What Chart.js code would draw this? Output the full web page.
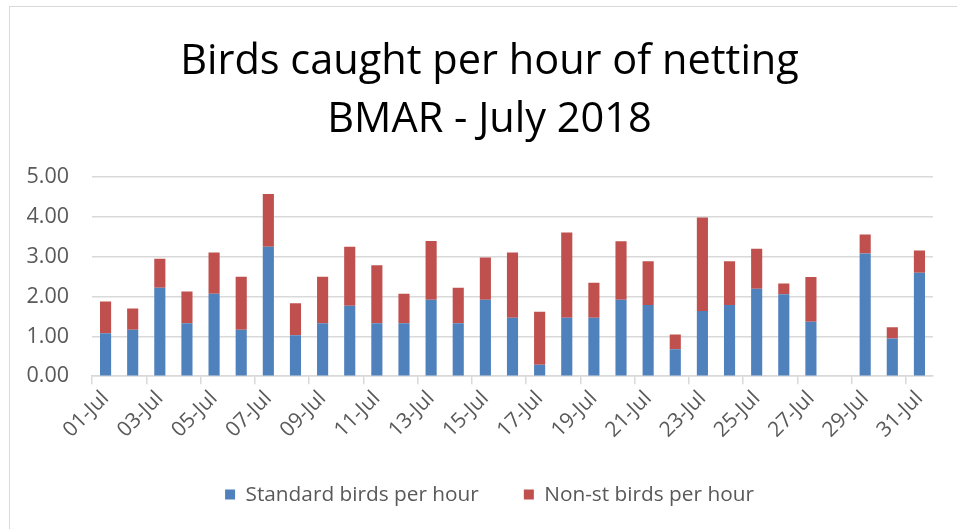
<!DOCTYPE html>
<html>
<head>
<meta charset="utf-8">
<script src="https://cdn.jsdelivr.net/npm/chart.js@4"></script>
<style>
  html, body { margin: 0; padding: 0; background: #fff; overflow: hidden; width: 957px; height: 529px; }
  #box { position: absolute; left: 9px; top: 6px; width: 980px; height: 560px; border-left: 1px solid #d9d9d9; border-top: 1px solid #d9d9d9; }
  #wrap { position: absolute; left: 0; top: 0; width: 959px; height: 508px; }
</style>
</head>
<body>
<div id="box"><div id="wrap"><canvas id="chart"></canvas></div></div>
<script>
// dias de julio
var categories = ['01-Jul','02-Jul','03-Jul','04-Jul','05-Jul','06-Jul','07-Jul','08-Jul','09-Jul','10-Jul',
  '11-Jul','12-Jul','13-Jul','14-Jul','15-Jul','16-Jul','17-Jul','18-Jul','19-Jul','20-Jul',
  '21-Jul','22-Jul','23-Jul','24-Jul','25-Jul','26-Jul','27-Jul','28-Jul','29-Jul','30-Jul','31-Jul'];

var standardPerHour = [1.08, 1.17, 2.22, 1.33, 2.07, 1.17, 3.25, 1.03, 1.33, 1.77,
  1.33, 1.33, 1.92, 1.33, 1.92, 1.47, 0.29, 1.47, 1.47, 1.92,
  1.79, 0.68, 1.64, 1.79, 2.20, 2.06, 1.37, 0, 3.08, 0.95, 2.60];

var nonStPerHour = [0.80, 0.53, 0.73, 0.80, 1.04, 1.33, 1.33, 0.80, 1.17, 1.48,
  1.46, 0.74, 1.48, 0.89, 1.06, 1.64, 1.33, 2.14, 0.88, 1.47,
  1.10, 0.37, 2.35, 1.10, 1.00, 0.27, 1.12, 0, 0.48, 0.28, 0.56];

var yTicks = [0, 1, 2, 3, 4, 5];

var fuente = "'Open Sans', sans-serif";

new Chart(document.getElementById('chart'), {
  type: 'bar',
  data: {
    labels: categories,
    datasets: [
      {
        label: 'Standard birds per hour',
        data: standardPerHour,
        backgroundColor: '#4F81BD',
        categoryPercentage: 1,
        barPercentage: 0.41
      },
      {
        label: 'Non-st birds per hour',
        data: nonStPerHour,
        backgroundColor: '#C0504D',
        categoryPercentage: 1,
        barPercentage: 0.41
      }
    ]
  },
  options: {
    responsive: true,
    maintainAspectRatio: false,
    animation: false,
    layout: { padding: { top: 26, right: 17, bottom: 0, left: 17 } },
    scales: {
      x: {
        stacked: true,
        offset: true,
        afterFit: function (scale) { scale.height = 63; },
        grid: {
          offset: true,
          drawOnChartArea: false,
          drawTicks: true,
          tickLength: 8,
          lineWidth: 1.5,
          color: function (ctx) { return ctx.index % 2 === 0 ? '#d9d9d9' : 'rgba(0,0,0,0)'; }
        },
        border: { display: true, color: '#d9d9d9', width: 1.5 },
        ticks: {
          autoSkip: false,
          maxRotation: 45,
          minRotation: 45,
          padding: 2,
          color: '#595959',
          font: { family: fuente, size: 21 },
          callback: function (value, index) { return index % 2 === 0 ? categories[index] : ''; }
        }
      },
      y: {
        stacked: true,
        min: 0,
        max: 5,
        afterFit: function (scale) { scale.width = 65; },
        afterBuildTicks: function (scale) { scale.ticks = yTicks.map(function (v) { return { value: v }; }); },
        grid: { color: '#d9d9d9', lineWidth: 1.5, drawTicks: false },
        border: { display: false },
        ticks: {
          padding: 23,
          color: '#595959',
          font: { family: fuente, size: 21.5 },
          callback: function (value) { return Number(value).toFixed(2); }
        }
      },
      // margen derecho vacio
      yRight: {
        position: 'right',
        display: true,
        afterFit: function (scale) { scale.width = 19; },
        grid: { display: false },
        border: { display: false },
        ticks: { display: false }
      }
    },
    plugins: {
      title: {
        display: true,
        text: ['Birds caught per hour of netting', 'BMAR - July 2018'],
        color: '#000',
        font: { family: fuente, size: 41.5, weight: 'normal', lineHeight: 1.4 },
        padding: { top: 0, bottom: 28 }
      },
      legend: {
        position: 'bottom',
        labels: {
          boxWidth: 10,
          boxHeight: 10,
          padding: 45,
          color: '#595959',
          font: { family: fuente, size: 20.8 }
        }
      },
      tooltip: { enabled: false }
    }
  }
});
</script>
</body>
</html>
